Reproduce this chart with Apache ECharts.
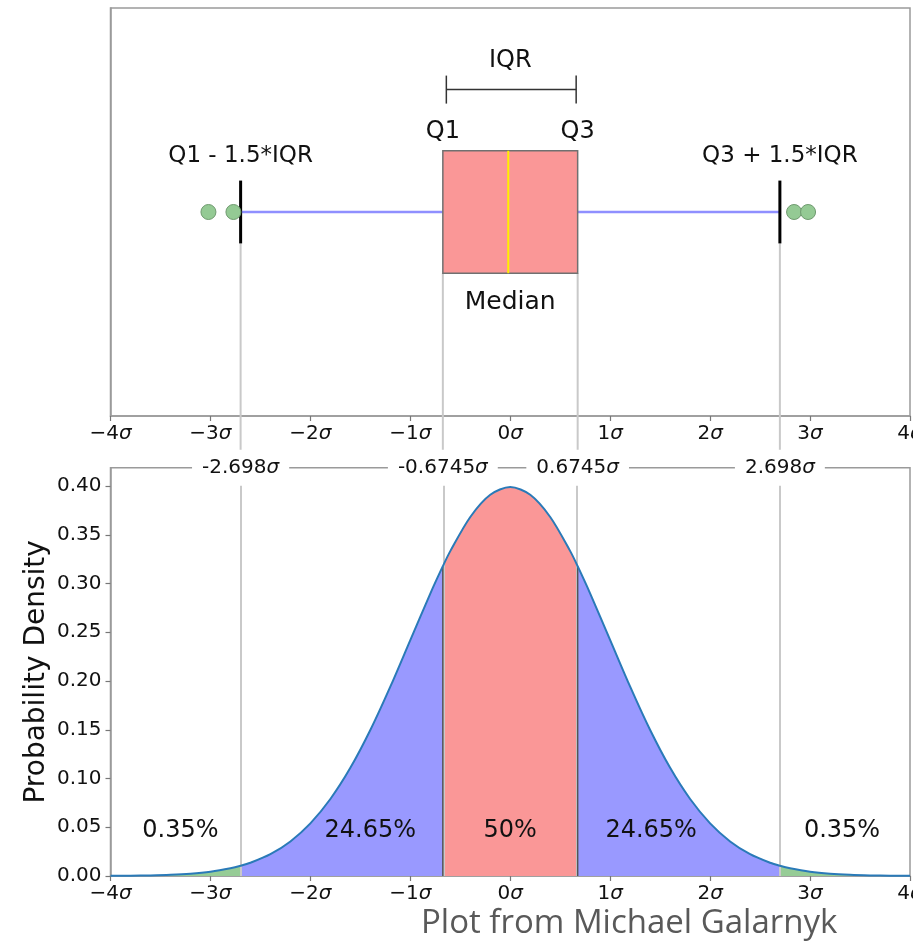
<!DOCTYPE html>
<html><head><meta charset="utf-8">
<script src="https://cdn.jsdelivr.net/npm/echarts@6/dist/echarts.min.js"></script>
<style>html,body{margin:0;padding:0;background:#fff}#c{width:913px;height:946px}</style>
</head><body><div id="c"></div>
<script>
// ---------------- data ----------------
const quartiles = [-0.6745, -0.02, 0.6745];          // Q1, median, Q3 (in sigma)
const whiskers = [-2.698, 2.698];                    // Q1-1.5*IQR, Q3+1.5*IQR
const outliers = [-3.02, -2.77, 2.84, 2.98];
const boundaries = [-2.698, -0.6745, 0.6745, 2.698];
const boundaryLabels = ['-2.698', '-0.6745', '0.6745', '2.698'];
const xSigma = [-4.0, -3.8, -3.6, -3.4, -3.2, -3.0, -2.8, -2.698, -2.6, -2.4, -2.2, -2.0, -1.8, -1.6, -1.4, -1.2, -1.0, -0.8, -0.6745, -0.6, -0.4, -0.2, 0.0,
                0.2, 0.4, 0.6, 0.6745, 0.8, 1.0, 1.2, 1.4, 1.6, 1.8, 2.0, 2.2, 2.4, 2.6, 2.698, 2.8, 3.0, 3.2, 3.4, 3.6, 3.8, 4.0];
const density = [0.00013, 0.00029, 0.00061, 0.00123, 0.00238, 0.00443, 0.00792, 0.01048, 0.01358, 0.02239, 0.03547, 0.05399, 0.07895, 0.11092, 0.14973, 0.19419, 0.24197, 0.28969, 0.31777, 0.33322, 0.36827, 0.39104, 0.39894,
                 0.39104, 0.36827, 0.33322, 0.31777, 0.28969, 0.24197, 0.19419, 0.14973, 0.11092, 0.07895, 0.05399, 0.03547, 0.02239, 0.01358, 0.01048, 0.00792, 0.00443, 0.00238, 0.00123, 0.00061, 0.00029, 0.00013];
const regionShares = ['0.35%', '24.65%', '50%', '24.65%', '0.35%'];
const yTicks = [0, 0.05, 0.10, 0.15, 0.20, 0.25, 0.30, 0.35, 0.40];
const xTicks = [-4, -3, -2, -1, 0, 1, 2, 3, 4];

// ---------------- styling ----------------
const FONT = 'DejaVu Sans';
const TXT = '#111';
const SPINE = '#9a9a9a';
const GUIDE = '#c9c9c9';
const RED = '#fa9797', BLUE = '#9999ff', GREEN = '#96cc96';

const sigmaFmt = v => {
  const n = Math.round(v);
  const s = n < 0 ? '\u2212' + Math.abs(n) : String(n);
  return '{n|' + s + '}{s|σ}';
};
const sigmaRich = {
  n: {fontFamily: FONT, fontSize: 20, color: TXT},
  s: {fontFamily: FONT, fontSize: 20, fontStyle: 'italic', color: TXT}
};
const sigmaAxis = (gridIndex) => ({
  type: 'value', gridIndex, min: -4, max: 4, interval: 1,
  axisLine: {show: true, onZero: false, lineStyle: {color: SPINE, width: 1.5}},
  axisTick: {show: true, length: 5, lineStyle: {color: '#777', width: 1.2}, customValues: xTicks},
  axisLabel: {formatter: sigmaFmt, rich: sigmaRich, margin: 8, fontFamily: FONT, fontSize: 20, color: TXT, customValues: xTicks, hideOverlap: false},
  splitLine: {show: false}
});

const line = (a, b, style) => ({type: 'line', shape: {x1: a[0], y1: a[1], x2: b[0], y2: b[1]}, style});
const BOX_C = 0.5, BOX_H = 0.15, CAP_H = 0.077;

const chart = echarts.init(document.getElementById('c'), null, {renderer: 'canvas'});
const option = {
  animation: false,
  backgroundColor: '#fff',
  title: {
    text: 'Plot from Michael Galarnyk', left: 416, top: 902,
    textStyle: {fontFamily: 'Open Sans', fontWeight: 'normal', fontSize: 33, color: '#595959'}
  },
  grid: [
    {left: 110.5, right: 3, top: 8, height: 408, show: true, borderColor: SPINE, borderWidth: 1.5, outerBoundsMode: 'none', containLabel: false},
    {left: 110.5, right: 3, top: 467.7, height: 408.3, show: true, borderColor: SPINE, borderWidth: 1.5, outerBoundsMode: 'none', containLabel: false}
  ],
  xAxis: [
    sigmaAxis(0),
    sigmaAxis(1),
    {
      type: 'value', gridIndex: 1, position: 'top', min: -4, max: 4, z: 10,
      axisLine: {show: false, onZero: false}, axisTick: {show: false}, splitLine: {show: false},
      axisLabel: {
        customValues: boundaries,
        formatter: v => '{n|' + boundaryLabels[boundaries.indexOf(v)] + '}{s|σ}',
        rich: sigmaRich,
        fontFamily: FONT, fontSize: 20, color: TXT,
        backgroundColor: '#fff', padding: [8, 10], verticalAlign: 'middle', margin: 0
      }
    }
  ],
  yAxis: [
    {type: 'value', gridIndex: 0, min: 0, max: 1,
     axisLine: {show: true, onZero: false, lineStyle: {color: SPINE, width: 1.5}},
     axisTick: {show: false}, axisLabel: {show: false}, splitLine: {show: false}},
    {type: 'value', gridIndex: 1, min: 0, max: 0.4188,
     name: 'Probability Density', nameLocation: 'middle', nameGap: 60, nameMoveOverlap: false,
     nameTextStyle: {fontFamily: FONT, fontSize: 28, color: TXT},
     axisLine: {show: true, onZero: false, lineStyle: {color: SPINE, width: 1.5}},
     axisTick: {show: true, length: 5, customValues: yTicks, lineStyle: {color: '#777', width: 1.2}},
     axisLabel: {customValues: yTicks, formatter: v => v.toFixed(2), fontFamily: FONT, fontSize: 20, color: TXT, margin: 9},
     splitLine: {show: false}}
  ],
  visualMap: {
    show: false, type: 'piecewise', seriesIndex: 5, dimension: 0,
    pieces: [
      {lt: boundaries[0], color: GREEN},
      {gte: boundaries[0], lt: boundaries[1], color: BLUE},
      {gte: boundaries[1], lte: boundaries[2], color: RED},
      {gt: boundaries[2], lte: boundaries[3], color: BLUE},
      {gt: boundaries[3], color: GREEN}
    ]
  },
  series: [
    // 0: grey guide lines in the box-plot panel, running down into the lower panel
    {
      type: 'custom', xAxisIndex: 0, yAxisIndex: 0, silent: true, clip: false, z: 1,
      data: [[whiskers[0], BOX_C - CAP_H], [quartiles[0], BOX_C - BOX_H], [quartiles[2], BOX_C - BOX_H], [whiskers[1], BOX_C - CAP_H]],
      renderItem: (params, api) => {
        const a = api.coord([api.value(0), api.value(1)]);
        const b = api.coord([api.value(0), 0]);
        return line(a, [b[0], b[1] + 48], {stroke: GUIDE, lineWidth: 2});
      }
    },
    // 1: box, whiskers, caps, median
    {
      type: 'custom', xAxisIndex: 0, yAxisIndex: 0, silent: true, clip: false, z: 3,
      data: [[quartiles[0], quartiles[1], quartiles[2], whiskers[0], whiskers[1]]],
      renderItem: (params, api) => {
        const q1 = api.value(0), med = api.value(1), q3 = api.value(2), lo = api.value(3), hi = api.value(4);
        const p = (x, y) => api.coord([x, y]);
        const tl = p(q1, BOX_C + BOX_H), br = p(q3, BOX_C - BOX_H);
        return {type: 'group', children: [
          line(p(lo, BOX_C), p(q1, BOX_C), {stroke: '#8f8fff', lineWidth: 2.5}),
          line(p(q3, BOX_C), p(hi, BOX_C), {stroke: '#8f8fff', lineWidth: 2.5}),
          {type: 'rect', shape: {x: tl[0], y: tl[1], width: br[0] - tl[0], height: br[1] - tl[1]},
           style: {fill: RED, stroke: '#707070', lineWidth: 1.5}},
          line(p(med, BOX_C + BOX_H), p(med, BOX_C - BOX_H), {stroke: '#ffee00', lineWidth: 2}),
          line(p(lo, BOX_C + CAP_H), p(lo, BOX_C - CAP_H), {stroke: '#000', lineWidth: 3}),
          line(p(hi, BOX_C + CAP_H), p(hi, BOX_C - CAP_H), {stroke: '#000', lineWidth: 3})
        ]};
      }
    },
    // 2: outliers
    {
      type: 'scatter', xAxisIndex: 0, yAxisIndex: 0, z: 4, silent: true,
      data: outliers.map(x => [x, BOX_C]), symbolSize: 15,
      itemStyle: {color: '#94ca94', borderColor: '#6f9a6f', borderWidth: 1, opacity: 1}
    },
    // 3: IQR bracket
    {
      type: 'custom', xAxisIndex: 0, yAxisIndex: 0, silent: true, clip: false, z: 3,
      data: [[quartiles[0], quartiles[2]]],
      renderItem: (params, api) => {
        const a = api.coord([api.value(0) + 0.035, 0.8]);
        const b = api.coord([api.value(1) - 0.015, 0.8]);
        const st = {stroke: '#333', lineWidth: 1.5};
        return {type: 'group', children: [
          line(a, b, st),
          line([a[0], a[1] - 14], [a[0], a[1] + 14], st),
          line([b[0], b[1] - 14], [b[0], b[1] + 14], st)
        ]};
      }
    },
    // 4: annotation texts in the box-plot panel
    {
      type: 'scatter', xAxisIndex: 0, yAxisIndex: 0, symbolSize: 0, silent: true, z: 5,
      itemStyle: {opacity: 1},
      label: {show: true, position: 'inside', formatter: '{b}', fontFamily: FONT, fontSize: 23, color: TXT, opacity: 1},
      data: [
        {name: 'IQR', value: [quartiles[1] + 0.02, 0.871], label: {fontSize: 24}},
        {name: 'Q1', value: [quartiles[0], 0.697], label: {fontSize: 24}},
        {name: 'Q3', value: [quartiles[2], 0.697], label: {fontSize: 24}},
        {name: 'Q1 - 1.5*IQR', value: [whiskers[0], 0.636]},
        {name: 'Q3 + 1.5*IQR', value: [whiskers[1], 0.636]},
        {name: 'Median', value: [quartiles[1] + 0.02, 0.277], label: {fontSize: 25}}
      ]
    },
    // 5: coloured area under the density
    {
      type: 'line', xAxisIndex: 1, yAxisIndex: 1, smooth: 0.3, showSymbol: false, silent: true, z: 2,
      data: xSigma.map((x, i) => [x, density[i]]),
      lineStyle: {opacity: 0},
      areaStyle: {opacity: 1},
      markLine: {
        silent: true, symbol: 'none', label: {show: false},
        lineStyle: {color: GUIDE, width: 2, type: 'solid'},
        data: boundaries.map(b => ({xAxis: b}))
      }
    },
    // 6: density curve
    {
      type: 'line', xAxisIndex: 1, yAxisIndex: 1, smooth: 0.3, showSymbol: false, silent: true, z: 7,
      data: xSigma.map((x, i) => [x, density[i]]),
      lineStyle: {color: '#2a7ab8', width: 2}
    },
    // 7: dark edges of the central region
    {
      type: 'custom', xAxisIndex: 1, yAxisIndex: 1, silent: true, z: 6,
      data: [quartiles[0], quartiles[2]].map(b => [b, density[xSigma.indexOf(b)]]),
      renderItem: (params, api) => line(api.coord([api.value(0), 0]), api.coord([api.value(0), api.value(1)]),
                                        {stroke: '#555', lineWidth: 1.5})
    },
    // 8: share labels
    {
      type: 'scatter', xAxisIndex: 1, yAxisIndex: 1, symbolSize: 0, silent: true, z: 8,
      itemStyle: {opacity: 1},
      label: {show: true, position: 'inside', formatter: '{b}', fontFamily: FONT, fontSize: 24, color: TXT, opacity: 1},
      data: regionShares.map((s, i) => ({name: s, value: [[-3.3, -1.4, 0, 1.41, 3.32][i], 0.0467]}))
    }
  ]
};
chart.setOption(option);
</script>
</body></html>
